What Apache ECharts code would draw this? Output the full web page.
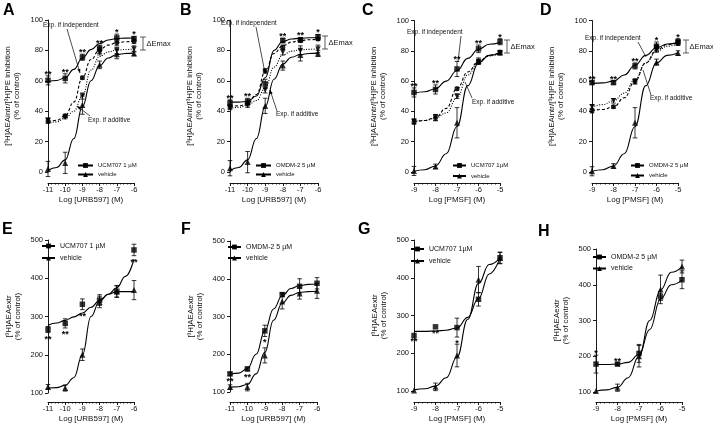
<!DOCTYPE html>
<html><head><meta charset="utf-8">
<script src="https://cdn.jsdelivr.net/npm/echarts@6/dist/echarts.min.js"></script>
<style>html,body{margin:0;padding:0;background:#fff}#c{width:713px;height:424px}</style>
</head><body><div id="c"></div>
<script>
// ---------------- data ----------------
const logURB = [-11,-10,-9,-8,-7,-6];
const logURBfit = [-11,-10.5,-10,-9.5,-9,-8.5,-8,-7.5,-7,-6.5,-6];
const logPMSF = [-9,-8,-7,-6,-5];
const logPMSFfit = [-9,-8.5,-8,-7.5,-7,-6.5,-6,-5.5,-5];

// Panel A
const A_drug = [60.3,61.6,75.5,81.5,88.2,87.7], A_drugErr = [3,3,2,2,2.5,1.5];
const A_veh = [2,6,44,70.5,77.5,78], A_vehErr = [5,7,6,2.5,3,1.5];
const A_ind = [33.5,37,62,80,85,86], A_indErr = [1.5,1,1,2,2,1.5];
const A_add = [34,36,50,79,80,81], A_addErr = [1.5,1,2,2,2,2];
const A_drugFit = [59.5,60.2,62,67.5,75,80.5,84.5,86.8,87.8,88.1,88.2];
const A_vehFit = [1,3,8,22,43,60,70,75,77.3,78,78.2];
const A_indFit = [33,34,37,46,62,74,80.5,83.5,85,85.7,86];
const A_addFit = [32,33,35.5,40,50,67,76,79,80.2,80.6,80.8];
const A_stars = ['**','**','**','**','*','*'];
// Panel B
const B_drug = [45.5,46.5,58,86.5,87,89], B_drugErr = [2,2,3,1.5,1.5,1.5];
const B_veh = [2.5,6.5,43.5,70,77,78], B_vehErr = [5,7,5,3,4,2];
const B_ind = [43,45,66.5,82,86.5,87.5], B_indErr = [1.5,1.5,1.5,1.5,1,1];
const B_add = [42.5,44,54,79,80,81], B_addErr = [1.5,1.5,2,2,3,2.5];
const B_drugFit = [46,46,46.5,50,62,80,86,87.5,88,88.3,88.5];
const B_vehFit = [1,3,8,22,43,61,71,75.5,77.3,78,78.2];
const B_indFit = [43,43.5,45,51,66,78,83,85.5,86.5,87,87.3];
const B_addFit = [42,42.5,44,47,55,69,77,79.5,80.3,80.7,81];
const B_stars = ['**','**','','**','**','*'];
// Panel C
const C_drug = [52.5,54.5,68,81.3,86], C_drugErr = [3,3,5,2.5,2];
const C_veh = [0.7,3.7,32.5,73.3,78.8], C_vehErr = [3,1.5,10,2,1.5];
const C_ind = [33,35.8,55,73,79], C_indErr = [1.5,2,1,1.5,1];
const C_add = [33.5,36,50,72.5,78.5], C_addErr = [1.5,2,1.5,1.5,1];
const C_drugFit = [52,53,55,60,67,75,81,84.3,85.5];
const C_vehFit = [0.5,1.5,4,12,30,57,72,77,78.5];
const C_indFit = [33,34,36,42,55,66,73,77,79];
const C_addFit = [33.5,34,35.5,39,49,64,72.5,76.5,78.5];
const C_stars = ['**','**','**','**','*'];
// Panel D
const D_drug = [59,59,70,82.8,86], D_drugErr = [1,1,2,3,2];
const D_veh = [0.5,4,32.5,72.5,78.5], D_vehErr = [3,1.5,10,2,1.5];
const D_ind = [40.5,43,60,82.5,85.5], D_indErr = [1.5,1,1.5,2,1.5];
const D_add = [43,47,59.5,81,85], D_addErr = [1.5,1.5,1.5,2,1.5];
const D_drugFit = [58.5,58.8,60,64,70.5,77,82,84.5,85.5];
const D_vehFit = [0.5,1.5,4,12,30,57,72,77,78.5];
const D_indFit = [40.5,41.3,43,49,60,72,80.5,84,85.5];
const D_addFit = [43,44.5,47,52,61,72,79.5,83,84.5];
const D_stars = ['**','**','**','*','*'];
// Panel E
const E_drug = [266,282,332,343,366,474], E_drugErr = [8,12,14,14,15,15];
const E_veh = [116,113,200,338,365,369], E_vehErr = [6,8,15,15,15,25];
const E_drugFit = [277,283,290,299,309,324,342,358,375,405,450];
const E_vehFit = [113,114,120,140,200,300,340,358,365,365,365];
const E_stars = ['**','**','**','','','**'];
// Panel F
const F_drug = [148,161,262,358,380,388], F_drugErr = [4,5,15,5,20,15];
const F_veh = [113,113,197,340,361,368], F_vehErr = [6,10,20,20,15,20];
const F_drugFit = [147,150,162,200,262,320,355,374,382,385,386];
const F_vehFit = [113,114,120,148,205,290,335,356,364,366,367];
const F_stars = ['**','**','*','','',''];
// Panel G
const G_drug = [247,270,268,343,453], G_drugErr = [0,0,25,18,15];
const G_veh = [101,111,194,395,452], G_vehErr = [0,10,30,35,15];
const G_drugFit = [258,258,259,261,267,295,345,410,452];
const G_vehFit = [103,106,113,135,190,290,385,435,452];
const G_stars = ['**','**','*','',''];
// Panel H
const H_drug = [178,178,208,366,414], H_drugErr = [25,4,25,10,25];
const H_veh = [103,112,200,387,451], H_vehErr = [0,10,30,40,18];
const H_drugFit = [177,177,178,183,205,275,360,400,413];
const H_vehFit = [103,106,113,140,200,300,385,435,450];
const H_stars = ['*','**','','',''];

const yTopName = '[³H]AEAintr/[³H]PE inhibition\n(% of control)';
const yBotName = '[³H]AEAextr\n(% of control)';

// ---------------- layout ----------------
const FONT = '"Liberation Sans", Arial, sans-serif';
const panels = [
 {L:'A',lx:3,ly:3,left:48,top:20,width:86,height:152,xmin:-11,xmax:-6,ymin:0,ymax:100,yint:20,xoff:11,xName:'Log [URB597] (M)',yName:yTopName,x:logURB,fx:logURBfit,
  drugName:'UCM707 1 µM',drug:A_drug,drugErr:A_drugErr,drugFit:A_drugFit,veh:A_veh,vehErr:A_vehErr,vehFit:A_vehFit,
  ind:A_ind,indErr:A_indErr,indFit:A_indFit,add:A_add,addErr:A_addErr,addFit:A_addFit,stars:A_stars,dir:1,
  leg:{left:77,top:162.5,gap:3,font:6,w:15}},
 {L:'B',lx:180,ly:3,left:230,top:20,width:88,height:152,xmin:-11,xmax:-6,ymin:0,ymax:100,yint:20,xoff:11,xName:'Log [URB597] (M)',yName:yTopName,x:logURB,fx:logURBfit,
  drugName:'OMDM-2 5 µM',drug:B_drug,drugErr:B_drugErr,drugFit:B_drugFit,veh:B_veh,vehErr:B_vehErr,vehFit:B_vehFit,
  ind:B_ind,indErr:B_indErr,indFit:B_indFit,add:B_add,addErr:B_addErr,addFit:B_addFit,stars:B_stars,dir:1,
  leg:{left:255,top:162.5,gap:3,font:6,w:15}},
 {L:'C',lx:362,ly:3,left:414,top:20.5,width:86,height:151.5,xmin:-9,xmax:-5,ymin:0,ymax:100,yint:20,xoff:11,xName:'Log [PMSF] (M)',yName:yTopName,x:logPMSF,fx:logPMSFfit,
  drugName:'UCM707 1µM',drug:C_drug,drugErr:C_drugErr,drugFit:C_drugFit,veh:C_veh,vehErr:C_vehErr,vehFit:C_vehFit,
  ind:C_ind,indErr:C_indErr,indFit:C_indFit,add:C_add,addErr:C_addErr,addFit:C_addFit,stars:C_stars,dir:1,
  leg:{left:452,top:162.5,gap:4.5,font:6,w:13}},
 {L:'D',lx:540,ly:3,left:592,top:20.5,width:86,height:151.5,xmin:-9,xmax:-5,ymin:0,ymax:100,yint:20,xoff:11,xName:'Log [PMSF] (M)',yName:yTopName,x:logPMSF,fx:logPMSFfit,
  drugName:'OMDM-2 5 µM',drug:D_drug,drugErr:D_drugErr,drugFit:D_drugFit,veh:D_veh,vehErr:D_vehErr,vehFit:D_vehFit,
  ind:D_ind,indErr:D_indErr,indFit:D_indFit,add:D_add,addErr:D_addErr,addFit:D_addFit,stars:D_stars,dir:1,
  leg:{left:630,top:162.5,gap:4,font:6,w:13}},
 {L:'E',lx:2,ly:222,left:48,top:240,width:86,height:154,xmin:-11,xmax:-6,ymin:100,ymax:500,yint:100,xoff:9,xName:'Log [URB597] (M)',yName:yBotName,x:logURB,fx:logURBfit,
  drugName:'UCM707 1 µM',drug:E_drug,drugErr:E_drugErr,drugFit:E_drugFit,veh:E_veh,vehErr:E_vehErr,vehFit:E_vehFit,stars:E_stars,dir:-1,
  leg:{left:41,top:242.5,gap:5,font:7,w:13}},
 {L:'F',lx:181,ly:222,left:230,top:241,width:87,height:152,xmin:-11,xmax:-6,ymin:100,ymax:500,yint:100,xoff:10,xName:'Log [URB597] (M)',yName:yBotName,x:logURB,fx:logURBfit,
  drugName:'OMDM-2 5 µM',drug:F_drug,drugErr:F_drugErr,drugFit:F_drugFit,veh:F_veh,vehErr:F_vehErr,vehFit:F_vehFit,stars:F_stars,dir:-1,
  leg:{left:227,top:243.5,gap:4,font:7,w:13}},
 {L:'G',lx:358,ly:222,left:414,top:240,width:86,height:152,xmin:-9,xmax:-5,ymin:100,ymax:500,yint:100,xoff:11,xName:'Log [PMSF] (M)',yName:yBotName,x:logPMSF,fx:logPMSFfit,
  drugName:'UCM707 1µM',drug:G_drug,drugErr:G_drugErr,drugFit:G_drugFit,veh:G_veh,vehErr:G_vehErr,vehFit:G_vehFit,stars:G_stars,dir:-1,
  leg:{left:410,top:245.5,gap:5,font:7,w:13}},
 {L:'H',lx:538,ly:224,left:596,top:249,width:86,height:144,xmin:-9,xmax:-5,ymin:100,ymax:500,yint:100,xoff:10,xName:'Log [PMSF] (M)',yName:yBotName,x:logPMSF,fx:logPMSFfit,
  drugName:'OMDM-2 5 µM',drug:H_drug,drugErr:H_drugErr,drugFit:H_drugFit,veh:H_veh,vehErr:H_vehErr,vehFit:H_vehFit,stars:H_stars,dir:1,
  leg:{left:592,top:253.5,gap:4.5,font:7,w:13}}
];

// pixel annotations (texts / pointers / ΔEmax brackets)
const notes = [
 {t:'Exp. if independent',x:43,y:25,l:[67,29,80,73],arrow:true},
 {t:'Exp. if additive',x:88,y:120,l:[90,116,77,106],arrow:true},
 {t:'Exp. if independent',x:221,y:23,l:[256,27,265,73],arrow:true},
 {t:'Exp. if additive',x:276,y:114,l:[277,111,270,90],arrow:true},
 {t:'Exp. if independent',x:407,y:32,l:[461,36,458,62],arrow:false},
 {t:'Exp. if additive',x:472,y:102,l:[472,98,465,82],arrow:false},
 {t:'Exp. if independent',x:585,y:38,l:[638,42,646,57],arrow:false},
 {t:'Exp. if additive',x:650,y:98,l:[651,95,643,70],arrow:false}
];
const brackets = [{x:143,y1:37,y2:50},{x:325,y1:36,y2:49},{x:507,y1:40,y2:53},{x:686,y1:40,y2:53}];

// ---------------- build ----------------
const grids=[], xAxes=[], yAxes=[], series=[], legends=[], graphics=[];
const K = '#000';

function errRender(params, api){
  const x = api.value(0);
  const lo = api.coord([x, api.value(1)]), hi = api.coord([x, api.value(2)]);
  const w = 2.3, st = {stroke:K, lineWidth:0.8};
  return {type:'group', children:[
    {type:'line', shape:{x1:lo[0],y1:lo[1],x2:hi[0],y2:hi[1]}, style:st},
    {type:'line', shape:{x1:lo[0]-w,y1:lo[1],x2:lo[0]+w,y2:lo[1]}, style:st},
    {type:'line', shape:{x1:hi[0]-w,y1:hi[1],x2:hi[0]+w,y2:hi[1]}, style:st}
  ]};
}

panels.forEach((p,i)=>{
  grids.push({left:p.left, top:p.top, width:p.width, height:p.height});
  xAxes.push({gridIndex:i, type:'value', min:p.xmin, max:p.xmax, interval:1, offset:p.xoff,
    axisLine:{onZero:false, lineStyle:{color:K, width:0.9}},
    axisTick:{length:3, lineStyle:{color:K, width:0.9}},
    minorTick:{show:true, splitNumber:5, length:1.6, lineStyle:{color:K, width:0.7}},
    splitLine:{show:false}, minorSplitLine:{show:false},
    axisLabel:{fontSize:7.5, margin:3, color:'#111', fontFamily:FONT},
    name:p.xName, nameLocation:'middle', nameGap:13,
    nameTextStyle:{fontSize:8, color:'#111', fontFamily:FONT}});
  yAxes.push({gridIndex:i, type:'value', min:p.ymin, max:p.ymax, interval:p.yint,
    axisLine:{show:true, lineStyle:{color:K, width:0.9}},
    axisTick:{show:true, length:3, lineStyle:{color:K, width:0.9}},
    splitLine:{show:false},
    axisLabel:{fontSize:7.5, margin:5, color:'#111', fontFamily:FONT},
    name:p.yName, nameLocation:'middle', nameRotate:90, nameGap:p.ymax>100?26:27,
    nameTextStyle:{fontSize:8, lineHeight:8.5, color:'#111', fontFamily:FONT}});

  const groups = [
    {name:p.drugName, v:p.drug, e:p.drugErr, f:p.drugFit, sym:'rect', size:5.5, rot:0, dash:'solid'},
    {name:'vehicle', v:p.veh, e:p.vehErr, f:p.vehFit, sym:'triangle', size:6, rot:0, dash:'solid'}
  ];
  if (p.ind) {
    groups.push({name:'Exp. if independent '+p.L, v:p.ind, e:p.indErr, f:p.indFit, sym:'circle', size:5, rot:0, dash:[3,2]});
    groups.push({name:'Exp. if additive '+p.L, v:p.add, e:p.addErr, f:p.addFit, sym:'triangle', size:5.5, rot:180, dash:[1,1.5]});
  }
  groups.forEach(g=>{
    series.push({type:'line', name:g.name, xAxisIndex:i, yAxisIndex:i,
      data:p.fx.map((x,k)=>[x,g.f[k]]), smooth:0.45, smoothMonotone:'x',
      symbol:g.sym, symbolRotate:g.rot, showSymbol:false, clip:false,
      lineStyle:{color:K, width:1.1, type:g.dash}, itemStyle:{color:K}, z:3, silent:true});
    series.push({type:'custom', xAxisIndex:i, yAxisIndex:i, renderItem:errRender, clip:false,
      data:p.x.map((x,k)=>[x, g.v[k]-g.e[k], g.v[k]+g.e[k]]).filter((d,k)=>g.e[k]>0), z:4, silent:true});
    series.push({type:'scatter', xAxisIndex:i, yAxisIndex:i, data:p.x.map((x,k)=>[x,g.v[k]]),
      symbol:g.sym, symbolSize:g.size, symbolRotate:g.rot, itemStyle:{color:K}, z:5, silent:true});
  });
  // significance stars, placed from drug values and their error bars
  const stars = p.stars, dir = p.dir;
  series.push({type:'custom', xAxisIndex:i, yAxisIndex:i, clip:false, z:6, silent:true,
    data:p.x.map((x,k)=>[x, p.drug[k] + dir*p.drugErr[k]]),
    renderItem:(params, api)=>{
      const t = stars[params.dataIndex]; if(!t) return null;
      const c = api.coord([api.value(0), api.value(1)]);
      return {type:'text', style:{text:t, x:c[0], y: dir>0 ? c[1]-1.5 : c[1]+6.5,
        align:'center', verticalAlign:'middle', fontSize:9, fontWeight:'bold', fill:K, fontFamily:FONT}};
    }});
  legends.push({data:[p.drugName,'vehicle'], orient:'vertical', left:p.leg.left, top:p.leg.top,
    itemWidth:p.leg.w, itemHeight:6, itemGap:p.leg.gap, padding:0, selectedMode:false,
    textStyle:{fontSize:p.leg.font, color:'#111', fontFamily:FONT}});
  graphics.push({type:'text', x:p.lx, y:p.ly, style:{text:p.L, fontSize:16, fontWeight:'bold', fill:K, fontFamily:FONT}});
});

notes.forEach(n=>{
  graphics.push({type:'text', x:n.x, y:n.y, style:{text:n.t, fontSize:6.5, fill:'#111', fontFamily:FONT, verticalAlign:'middle'}});
  const [x1,y1,x2,y2] = n.l;
  graphics.push({type:'line', shape:{x1,y1,x2,y2}, style:{stroke:K, lineWidth:0.7}});
  if (n.arrow){
    const a = Math.atan2(y2-y1, x2-x1), L=4, W=1.6;
    const bx = x2 - L*Math.cos(a), by = y2 - L*Math.sin(a);
    graphics.push({type:'polygon', shape:{points:[[x2,y2],[bx + W*Math.sin(a), by - W*Math.cos(a)],[bx - W*Math.sin(a), by + W*Math.cos(a)]]}, style:{fill:K}});
  }
});
brackets.forEach(b=>{
  const st = {stroke:'#333', lineWidth:0.8};
  graphics.push({type:'line', shape:{x1:b.x,y1:b.y1,x2:b.x,y2:b.y2}, style:st});
  graphics.push({type:'line', shape:{x1:b.x-3,y1:b.y1,x2:b.x+3,y2:b.y1}, style:st});
  graphics.push({type:'line', shape:{x1:b.x-3,y1:b.y2,x2:b.x+3,y2:b.y2}, style:st});
  graphics.push({type:'text', x:b.x+3.5, y:(b.y1+b.y2)/2, style:{text:'ΔEmax', fontSize:7.5, fill:'#111', fontFamily:FONT, verticalAlign:'middle'}});
});

const chart = echarts.init(document.getElementById('c'), null, {renderer:'canvas'});
chart.setOption({
  animation:false, backgroundColor:'#fff',
  textStyle:{fontFamily:FONT},
  grid:grids, xAxis:xAxes, yAxis:yAxes, series:series, legend:legends, graphic:graphics
});
</script></body></html>
